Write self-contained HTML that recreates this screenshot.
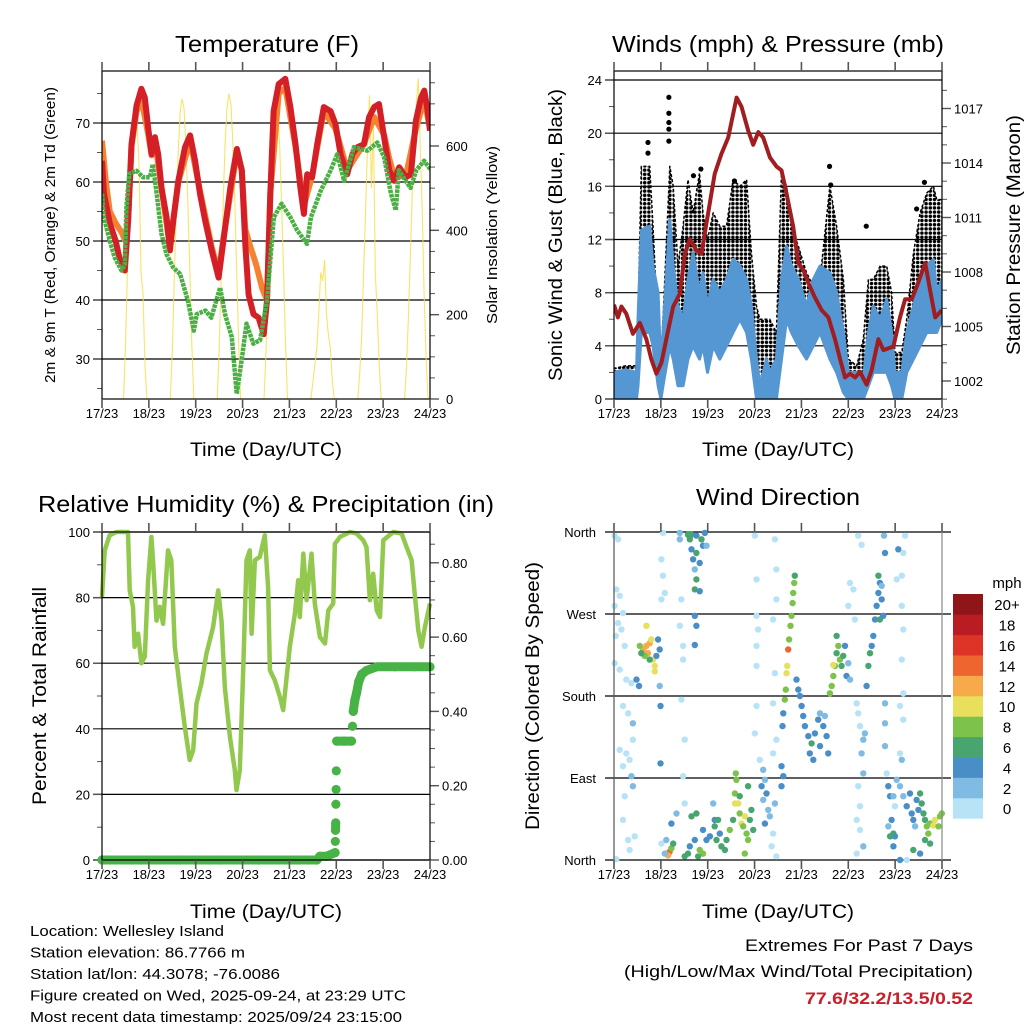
<!DOCTYPE html>
<html><head><meta charset="utf-8"><style>
html,body{margin:0;padding:0;background:#fff;}
svg{display:block;font-family:"Liberation Sans",sans-serif;}
</style></head><body>
<svg id="chart" width="1024" height="1024" viewBox="0 0 1024 1024" xmlns="http://www.w3.org/2000/svg">
<defs>
<pattern id="dotpat" width="4.2" height="4.2" patternUnits="userSpaceOnUse"><circle cx="2.1" cy="2.1" r="1.75" fill="#000"/></pattern>
</defs>
</svg>
<script>
// ---------- DATA ----------
const dayLabels=["17/23","18/23","19/23","20/23","21/23","22/23","23/23","24/23"];
const tempT=[0,1,4,7,9,11.7,13.4,15.1,17.7,20.2,21.9,23.7,25.4,27.1,28.8,30.5,33.1,34.8,36.5,39.1,42.5,45.1,47.7,50.2,52.8,56.2,59.7,62.2,65.7,69.1,71.6,73.4,75.1,77.6,80.2,82.8,84.5,86.2,87.9,90.5,93.9,96.5,99.1,101.6,103.4,105.1,107.6,110.2,113.6,117.1,119.6,122.2,125.6,128.2,130.8,134.2,136.8,139.4,141.9,144.5,147.1,149.6,152.2,155.6,158.2,160.8,163.4,165.1,166.8,168];
const tempRed=[63.6,58,53,50,47,45,53.5,66.4,73,75.8,74.3,69,64.7,67.6,64.7,59,54,48.4,53.5,60.2,65.9,67.9,63.6,58,53.5,48.4,43.8,50,59,65.6,62,49.4,40.9,37.6,37,34.2,39.9,58,72,76.6,77.5,72.7,66.4,59,54.6,61.3,60.8,66.4,72.7,72,69.8,64.7,61.3,64.7,65.9,66.4,71,72.7,73.2,67.6,62,60.2,62.5,60.8,61.3,70.4,74.3,75.5,72,68.7];
const orangeT=[0,2,4,7,10,12,13.4,15.1,17.7,20.2,23.7,25.4,27.1,30.5,34.8,39.1,45.1,50.2,56.2,59.7,62.2,69.1,71.6,73.4,76,79,82,84.5,86.2,90.5,93.9,99.1,103.4,107.6,113.6,119.6,122.2,125.6,134.2,139.4,144.5,147.1,149.6,155.6,160.8,165.1,168];
const orangeV=[67,60,55,53,51.5,50,54,66,72,74,68,64.5,67,59,49,60,67,58.5,49,44.5,50.5,65,62,52,49,46,42,40,58,75,76,66,56,61,72,69,66,62,66.5,71,68,64,61,61,69,74,69];
const dewT=[0,1,4,6.5,10,11.7,12.5,14,17.7,21,24.5,26,28,30.5,33,36.5,40,44,47,48.5,53,56,60.5,63,66.5,69,71.5,74,77.5,81,84.5,88,92,96.5,100,105,107,112,117,120.5,124,129,136,141,144.5,148,150.5,152,155.5,158,161,165,168.5];
const dewV=[58,54,50,47.2,45,46,55.7,61.4,61.9,60.8,60.8,63,58,51.2,47.8,45.5,44.4,39.9,34.8,37.6,38.2,37,42.1,37.6,33.7,24.1,29.7,36,32.6,33.2,39.9,54,56.3,54,51.8,49.5,54,58.5,61.9,64.7,60.2,65.9,65.3,66.7,64.2,58,55.2,62,60.2,59,62,63.6,62];
const solarHours=[10,11,12,13,14,15,16,17,18,19,20,21,22,23];
const solarDay17=[0,0,120,300,480,600,650,700,650,550,300,250,80,0];
const solarDay18=[0,0,110,280,440,580,680,712,690,600,460,300,130,0];
const solarDay19=[0,0,110,290,450,600,690,724,700,610,470,300,130,0];
const solarDay20=[0,0,110,290,450,600,690,720,690,600,460,300,130,0];
const solarDay21=[0,0,40,80,120,200,300,280,330,200,150,120,40,0];
const solarDay22=[0,0,60,150,300,450,600,720,500,650,300,200,80,0];
const solarDay23=[0,0,80,200,350,500,650,700,760,600,450,250,100,0];

const windT=[0,6,11.5,12.3,14,18.3,20,22.6,24,25.1,28.6,30.3,32.8,35.4,37.9,40.5,43.8,45.6,47.9,50.8,54.2,57.6,61,64.5,67.9,70.4,73,74.7,78.1,79.8,83.2,85.8,88.4,90.9,94.4,98.6,102.1,105.5,110.6,114,117.5,120,124.3,127.7,130.3,132.8,136.3,139.7,142.2,143.9,147.4,149.9,153.4,156.8,160.2,163.6,165.3,168];
const windHigh=[2,2.2,2,6,12.7,13,10,8,2,5,13.5,10,7,6,9,11,8,9.5,7,9,8,9,10.5,10,9,7,3,1,3,2,3,9,11.5,10,9,7,9,10,9.5,8,5,2,2,1.5,5,7,6,7.5,5,2,2,5,7,9,10,10.5,8,9];
const windLow=[0,0,0,1,5,5,4,1,0,1,4,3,1,1,3,4,3,4,2,4,3,4,5,6,5,3,0,0,0,0,0,3,6,5,4,3,4,5,3,2,0.5,0,0,0,1,2,2,2,1,0,0,2,3,4,5,5,5,6];
const gustMax=[2.3,2.5,2.5,6,17.5,17.5,13,5,3,6,17.5,16,10,13,16.5,14,17,14,12,14,13,13,16.5,16,16.5,11,7,6,6,6,5,17,16,13,11.5,9.5,8.5,9,16,13,9,3,2.5,4.5,9,9,10,10,8,3.5,3.5,6,11,14,15.5,16,15,15];
const gustOutT=[17.4,17.4,28.1,28.1,28.1,28.1,28.1,40.7,44.5,61.7,110.4,111,129.2,155,159];
const gustOutV=[19.3,18.5,22.7,21.5,20.8,20.3,19.4,16.8,17.3,16.4,17.5,16.1,13,14.3,16.3];
const presT=[0,2,3.8,6.3,9.7,13.2,16.6,19.1,21.7,24.3,26.8,30.3,33.7,36.3,38.8,42.2,44.8,47.4,51.6,55,58.5,62.8,65.3,68.7,71.3,73.9,76.4,79.9,83.3,85.8,88.4,91.8,94.4,97,99.5,102.9,106.4,109.8,113.2,115.8,118.3,120.9,123.5,126,129.4,132,135.4,138,143.1,146.5,149.1,152.5,155.1,159.4,161.9,164.5,167.9];
const presV=[1006.2,1005.5,1006.1,1005.7,1004.6,1005.2,1004.3,1003.2,1002.4,1003,1004.3,1006.1,1006.8,1009,1009.8,1009.2,1009,1010.7,1013.4,1014.5,1015.4,1017.6,1017.1,1015.8,1015,1015.7,1015.4,1014.3,1013.8,1013.6,1012.3,1010.5,1008.5,1008.1,1007.4,1006.6,1005.9,1005.5,1004.3,1003.2,1002.2,1002.4,1002.2,1002.5,1001.8,1002.6,1004.3,1003.7,1003.9,1005.5,1006.5,1006.5,1007.2,1008.5,1007,1005.5,1005.9];

const rhT=[0,1.4,3.9,7.3,13.3,14.2,15.9,16.7,18.5,20.2,21.9,23.6,25.3,26.1,27.9,29.6,31.3,33.8,35.5,37.3,39.8,42.4,44.9,46.7,48.4,50.9,53.5,56.9,59.5,61.2,62.9,65.5,68,68.9,70.6,72.3,74,75.7,76.6,78.3,80.8,83.4,85.1,86,88.5,91.1,92.8,96.2,98.8,100.5,101.3,103.1,104.8,107.3,109,111.6,114.2,115.9,118.4,119.3,121.9,127,130.4,133.8,135.5,137.2,138.9,140.7,142.4,144.1,149.2,153.5,156,158.6,160.3,162,163.7,165.4,168];
const rhV=[80.2,94.4,99,100,100,82.2,77.2,65,69,60,62,85.3,98.5,91.4,73,77.2,72,94.4,91.4,65,52.8,40.6,30.5,33.5,47.7,53.8,63,71,82.2,73,52.8,37.6,27.4,21.3,27.4,57.9,91.4,94.4,69,91.4,92.4,99,83.2,57.9,54.8,49.7,45.7,65,75.1,85.3,74.1,93.4,79.2,93.4,78.2,68,66,76.1,78.2,96.4,98.5,100,99.5,97.5,95.4,79.2,87.3,76.1,74.1,97.5,100,99.5,95.4,91.4,80.2,70,65,71,78.2];
const precipT=[0,20,40,60,80,100,110,111.6,115,119.4,119.5,119.6,119.7,119.8,119.9,120,120.2,124,127.8,128.3,128.7,129.5,130.4,131.5,133,135.5,140.7,150,160,168];
const precipV=[0,0,0,0,0,0,0,0.01,0.01,0.02,0.05,0.08,0.1,0.15,0.19,0.24,0.32,0.32,0.32,0.36,0.40,0.43,0.45,0.48,0.50,0.51,0.52,0.52,0.52,0.52];

const dirT=[0.3,2.1,1.2,2.9,0.3,4.6,2.1,3.8,0.9,5.5,0.3,2.9,6.3,8.9,4.6,7.2,9.7,2.9,6.3,9.7,8.0,4.6,8.9,9.7,5.5,4.6,7.2,1.2,8.0,10.6,11.5,12.8,14.9,16.6,17.4,18.3,15.7,14.0,20.0,20.9,21.7,22.6,23.4,16.6,19.1,13.2,18.3,20.9,23.4,23.8,23.8,24.3,25.1,26.0,24.3,25.1,28.5,27.7,29.4,30.3,26.0,24.3,26.8,29.4,32.0,33.7,33.7,34.5,35.4,33.7,35.4,34.5,36.2,35.4,36.2,37.9,39.7,42.2,44.8,45.6,39.7,42.2,40.5,43.9,41.4,42.2,41.4,43.9,46.5,47.4,38.8,41.4,42.2,41.4,36.2,37.9,39.7,42.2,43.9,45.6,38.8,41.4,43.1,47.4,49.1,45.6,51.6,50.8,51.6,53.3,52.5,54.2,55.0,56.8,57.6,59.3,61.0,61.9,62.7,62.4,63.6,64.4,65.3,66.2,67.0,67.9,68.7,69.6,70.4,71.3,61.9,64.4,67.0,68.7,72.1,73.0,73.0,73.8,73.0,73.0,72.1,73.0,74.7,76.4,77.3,75.6,78.1,76.4,79.0,79.8,77.3,81.5,80.7,83.2,82.4,81.5,83.2,85.8,85.8,86.7,82.4,83.2,83.2,81.5,82.4,81.5,86.3,86.7,87.5,88.0,88.4,88.7,89.2,89.7,90.4,90.9,91.5,91.8,92.3,92.6,93.5,94.4,95.2,96.1,96.9,97.8,99.5,101.2,102.9,104.6,105.5,107.2,108.9,109.7,102.1,100.3,108.0,105.5,110.6,111.5,112.3,113.2,114.0,114.9,115.7,116.6,117.4,118.3,119.1,120.0,120.9,114.0,112.3,120.0,120.9,122.6,123.4,124.3,125.1,126.0,127.7,126.8,127.7,125.1,126.0,124.3,126.0,124.3,127.7,125.1,126.8,128.5,129.4,130.3,131.1,132.0,132.8,133.7,134.5,135.4,136.2,137.1,136.2,137.9,135.4,137.1,138.8,138.3,138.8,138.8,138.8,145.6,144.8,147.4,148.2,149.1,147.4,148.2,147.4,148.2,146.5,148.2,146.5,147.4,139.7,140.5,141.4,142.2,143.1,143.9,140.5,141.4,143.1,144.8,146.5,148.2,149.9,151.6,152.5,153.3,154.2,155.0,155.9,156.8,157.6,158.5,159.3,160.2,161.9,163.6,164.4,166.2,167.0,167.9,161.0,159.3,161.9,153.3,156.8,146.5,149.9,143.9,143.1];
const dirV=[356,352,297,290,279,271,260,253,246,235,216,209,198,194,169,161,150,121,117,132,110,103,92,81,70,44,22,1,11,26,198,191,231,235,227,238,224,227,220,213,224,242,231,257,242,235,220,207,191,169,106,286,312,293,330,359,9,5,13,18,7,18,22,40,51,359,352,286,235,257,220,176,132,92,62,357,357,356,352,345,341,337,330,326,319,308,297,295,359,345,352,268,257,236,4,7,48,51,11,7,15,22,4,22,26,33,44,62,37,44,22,29,15,11,22,33,44,73,88,95,62,51,40,37,48,29,22,44,55,33,62,70,7,81,356,308,268,253,235,213,139,169,110,99,88,81,73,66,55,48,40,29,15,4,62,117,132,103,81,92,352,319,286,264,205,172,147,161,176,187,205,213,231,242,257,268,282,293,304,312,198,187,180,169,158,147,136,128,139,154,161,147,136,117,110,117,158,125,183,191,202,213,227,235,220,213,224,235,202,216,198,246,214,279,304,297,264,172,161,147,132,117,95,81,59,44,33,7,15,356,346,139,191,213,227,235,246,264,279,293,304,286,264,268,312,301,337,356,172,150,125,341,308,312,337,356,279,253,220,183,169,154,117,110,95,81,70,44,29,26,37,26,15,88,81,70,59,73,51,44,37,66,55,73,62,51,44,37,40,38,44,37,48,51,29,22,18,11,7,0,0,59,70];
const dirS=[0,0,0,0,0,0,0,0,0,0,0,0,0,0,0,0,2,0,0,0,0,0,2,2,0,0,0,0,0,0,4,4,12,12,12,13,8,6,10,10,4,4,4,10,10,8,6,10,2,4,4,0,0,0,0,0,15,12,8,6,2,0,2,4,2,2,2,0,0,0,0,0,0,0,0,6,6,4,6,4,4,6,4,4,2,6,6,4,4,2,6,4,4,4,6,6,6,6,8,8,4,4,6,4,4,4,4,2,6,6,6,4,6,6,6,8,6,8,8,8,10,8,10,8,10,8,8,6,6,6,10,6,8,6,0,0,0,0,0,0,0,0,0,2,2,4,4,2,2,2,4,0,0,0,2,0,0,4,4,4,0,0,0,0,0,0,4,4,8,8,10,10,14,8,8,8,8,8,8,6,4,4,4,4,4,4,4,6,4,4,2,4,4,4,4,4,2,4,8,8,8,8,6,8,8,6,6,4,4,2,2,6,10,0,0,0,0,0,0,0,2,2,2,0,0,0,0,0,2,0,0,2,4,6,6,4,4,4,4,4,4,4,6,4,6,2,4,2,2,2,2,4,0,0,0,0,0,0,0,0,0,0,0,2,0,4,4,4,6,4,2,6,4,2,2,2,4,4,4,4,2,4,4,6,6,6,6,8,8,10,10,8,8,8,8,6,6,6,4,4,0,0,2,2];
const speedBins=["0","2","4","6","8","10","12","14","16","18","20+"];
const binColors=["#b8e3f7","#7fbbe3","#4a8ec7","#49a56f","#7dc24b","#e8e05c","#f6aa49","#ef652f","#de3427","#ba1c23","#8f1519"];

// ---------- HELPERS ----------
const NS="http://www.w3.org/2000/svg";
const svg=document.getElementById("chart");
function mk(tag,attrs,parent){const e=document.createElementNS(NS,tag);for(const k in attrs)e.setAttribute(k,attrs[k]);(parent||svg).appendChild(e);return e;}
function txt(s,attrs,parent){const e=mk("text",attrs,parent);e.textContent=s;return e;}
function linScale(d0,d1,r0,r1){return v=>r0+(v-d0)*(r1-r0)/(d1-d0);}
function pathFrom(ts,vs,xf,yf){let d="";for(let i=0;i<ts.length;i++)d+=(i?"L":"M")+xf(ts[i]).toFixed(1)+","+yf(vs[i]).toFixed(1);return d;}

const P={x0:102,x1:430,y0:71,y1:399};
const Q={x0:614,x1:942,y0:71,y1:399};
const R={x0:102,x1:430,y0:532,y1:860};
const S={x0:614,x1:942,y0:532,y1:860};

function frameAndX(p,name,titleY,labelY){
  const g=mk("g",{});
  
  
  const xs=linScale(0,168,p.x0,p.x1);
  for(let i=0;i<dayLabels.length;i++){
    const x=xs(i*24);
    mk("line",{x1:x,x2:x,y1:p.y1,y2:p.y1+9,stroke:"#555","stroke-width":1.6},g);
    mk("line",{x1:x,x2:x,y1:p.y0,y2:p.y0-9,stroke:"#555","stroke-width":1.6},g);
    const t=txt(dayLabels[i],{x:x,y:labelY,"font-size":13,"text-anchor":"middle",fill:"#000"},g);
    
    
  }
  const at=txt("Time (Day/UTC)",{x:(p.x0+p.x1)/2,y:titleY,"font-size":19,"text-anchor":"middle",fill:"#000",textLength:152,lengthAdjust:"spacingAndGlyphs"});
  
  
  return xs;
}
function frame(p,name){
  const r=mk("rect",{x:p.x0,y:p.y0,width:p.x1-p.x0,height:p.y1-p.y0,fill:"none",stroke:"#000","stroke-width":1.2});
  
  
}
function yTicks(p,side,scale,majors,minors,fmt,name,grid,labelDx){
  const g=mk("g",{});
  
  
  const x=side==="l"?p.x0:p.x1, dir=side==="l"?-1:1;
  minors.forEach(v=>{const y=scale(v);mk("line",{x1:x,x2:x+dir*5,y1:y,y2:y,stroke:"#555","stroke-width":1},g);});
  majors.forEach(v=>{const y=scale(v);
    if(grid) mk("line",{x1:p.x0-9,x2:p.x1,y1:y,y2:y,stroke:"#000","stroke-width":1.2},g);
    mk("line",{x1:x,x2:x+dir*9,y1:y,y2:y,stroke:"#555","stroke-width":1.4},g);
    const t=txt(fmt(v),{x:x+dir*labelDx,y:y+5,"font-size":13,"text-anchor":side==="l"?"end":"start",fill:"#000"},g);
    
    
  });
}
function rotText(s,x,y,size,len,name){
  const t=txt(s,{x:0,y:0,"font-size":size,"text-anchor":"middle",fill:"#000",transform:`translate(${x},${y}) rotate(-90)`,textLength:len,lengthAdjust:"spacingAndGlyphs"});
  
  
}
function title(s,x,y,len,name){
  const t=txt(s,{x:x,y:y,"font-size":23,"text-anchor":"middle",fill:"#000",textLength:len,lengthAdjust:"spacingAndGlyphs"});
  
  
}
function range(a,b,s){const r=[];for(let v=a;v<=b+1e-9;v+=s)r.push(+v.toFixed(4));return r;}

// ---------- PANEL 1: TEMPERATURE ----------
{
  const xs=linScale(0,168,P.x0,P.x1);
  const yT=linScale(30,70,359,123);
  const yS=linScale(0,600,399,146);
  const clip=mk("clipPath",{id:"c1"});mk("rect",{x:P.x0,y:P.y0,width:P.x1-P.x0,height:P.y1-P.y0},clip);
  yTicks(P,"l",yT,[30,40,50,60,70],range(25,75,5),v=>v,"temp-y-axis",true,12);
  yTicks(P,"r",yS,[0,200,400,600],range(0,750,50),v=>v,"solar-y-axis",false,16);
  const g=mk("g",{"clip-path":"url(#c1)"});
  const solarDays=[solarDay17,solarDay18,solarDay19,solarDay20,solarDay21,solarDay22,solarDay23];
  solarDays.forEach((arr,di)=>{
    const p=mk("path",{d:pathFrom(solarHours.map(h=>h+di*24),arr,xs,yS),fill:"none",stroke:"#f7df4e","stroke-width":1.1,opacity:0.85},g);
    
    
  });
  const o=mk("path",{d:pathFrom(orangeT,orangeV,xs,yT),fill:"none",stroke:"#f58231","stroke-width":6,"stroke-linejoin":"round"},g);
  
  
  const r=mk("path",{d:pathFrom(tempT,tempRed,xs,yT),fill:"none",stroke:"#d41f27","stroke-width":6,"stroke-linejoin":"round"},g);
  
  
  const gd=mk("path",{d:pathFrom(dewT,dewV,xs,yT),fill:"none",stroke:"#4caf45","stroke-width":4.5,"stroke-dasharray":"3.5 0.8","stroke-linejoin":"round"},g);
  
  
  frame(P,"temp");
  frameAndX(P,"temp",456,418);
  title("Temperature (F)",267,52,184,"temp-title");
  rotText("2m & 9m T (Red, Orange) & 2m Td (Green)",55,235,14.5,296,"temp-y-title");
  rotText("Solar Insolation (Yellow)",497,235,15,178,"solar-y-title");
}

// ---------- PANEL 2: WINDS ----------
{
  const xs=linScale(0,168,Q.x0,Q.x1);
  const yW=linScale(0,24,399,80);
  const yP=linScale(1002,1017,381,108.5);
  const clip=mk("clipPath",{id:"c2"});mk("rect",{x:Q.x0,y:Q.y0,width:Q.x1-Q.x0,height:Q.y1-Q.y0},clip);
  yTicks(Q,"l",yW,[0,4,8,12,16,20,24],range(0,24,2),v=>v,"wind-y-axis",true,12);
  yTicks(Q,"r",yP,[1002,1005,1008,1011,1014,1017],range(1001,1018,1),v=>v,"pressure-y-axis",false,12);
  const g=mk("g",{"clip-path":"url(#c2)"});
  let d="M"+xs(windT[0])+","+yW(windLow[0]);
  for(let i=0;i<windT.length;i++)d+="L"+xs(windT[i]).toFixed(1)+","+yW(gustMax[i]).toFixed(1);
  for(let i=windT.length-1;i>=0;i--)d+="L"+xs(windT[i]).toFixed(1)+","+yW(windLow[i]).toFixed(1);
  const gust=mk("path",{d:d+"Z",fill:"url(#dotpat)",stroke:"#000","stroke-width":1.5,"stroke-dasharray":"3 2","stroke-linejoin":"round"},g);
  
  
  for(let i=0;i<gustOutT.length;i++){
    const c=mk("circle",{cx:xs(gustOutT[i]),cy:yW(gustOutV[i]),r:2.6,fill:"#000"},g);
    
    
  }
  let d2="M"+xs(windT[0])+","+yW(windHigh[0]);
  for(let i=0;i<windT.length;i++)d2+="L"+xs(windT[i]).toFixed(1)+","+yW(windHigh[i]).toFixed(1);
  for(let i=windT.length-1;i>=0;i--)d2+="L"+xs(windT[i]).toFixed(1)+","+yW(windLow[i]).toFixed(1);
  const blue=mk("path",{d:d2+"Z",fill:"#5597d2",stroke:"#5597d2","stroke-width":3,"stroke-linejoin":"round"},g);
  
  
  const pr=mk("path",{d:pathFrom(presT,presV,xs,yP),fill:"none",stroke:"#a11d1f","stroke-width":4,"stroke-linejoin":"round"},g);
  
  
  frame(Q,"wind");
  frameAndX(Q,"wind",456,418);
  title("Winds (mph) & Pressure (mb)",778,52,332,"wind-title");
  rotText("Sonic Wind & Gust (Blue, Black)",562,235,19,292,"wind-y-title");
  rotText("Station Pressure (Maroon)",1020,235,19,240,"pressure-y-title");
}

// ---------- PANEL 3: RH & PRECIP ----------
{
  const xs=linScale(0,168,R.x0,R.x1);
  const yR=linScale(0,100,860,532);
  const yPr=linScale(0,0.8,860,562.8);
  const clip=mk("clipPath",{id:"c3"});mk("rect",{x:R.x0-6,y:R.y0-6,width:R.x1-R.x0+12,height:R.y1-R.y0+12},clip);
  yTicks(R,"l",yR,[0,20,40,60,80,100],range(0,100,10),v=>v,"rh-y-axis",true,12);
  yTicks(R,"r",yPr,[0,0.2,0.4,0.6,0.8],range(0,0.85,0.05),v=>v.toFixed(2),"precip-y-axis",false,12);
  const g=mk("g",{"clip-path":"url(#c3)"});
  const rh=mk("path",{d:pathFrom(rhT,rhV,xs,yR),fill:"none",stroke:"#93c84f","stroke-width":4.5,"stroke-linejoin":"round"},g);
  
  
  let d="";
  for(let i=0;i<precipT.length;i++){
    const joined=i>0&&precipV[i]-precipV[i-1]<0.03;
    d+=(joined?"L":"M")+xs(precipT[i]).toFixed(1)+","+yPr(precipV[i]).toFixed(1);
  }
  const pp=mk("path",{d:d,fill:"none",stroke:"#47b346","stroke-width":9,"stroke-linecap":"round","stroke-linejoin":"round"},g);
  
  
  for(let i=0;i<precipT.length;i++){
    const c=mk("circle",{cx:xs(precipT[i]),cy:yPr(precipV[i]),r:4.6,fill:"#47b346"},g);
    
    
  }
  frame(R,"rh");
  frameAndX(R,"rh",918,879);
  title("Relative Humidity (%) & Precipitation (in)",266,512,456,"rh-title");
  rotText("Percent & Total Rainfall",46,696,19,218,"rh-y-title");
}

// ---------- PANEL 4: WIND DIRECTION ----------
{
  const xs=linScale(0,168,S.x0,S.x1);
  const yD=linScale(0,360,860,532);
  const g0=mk("g",{});
  
  
  const dirNames=["North","East","South","West","North"];
  [0,90,180,270,360].forEach((v,i)=>{
    const y=yD(v);
    mk("line",{x1:S.x0-9,x2:S.x1+9,y1:y,y2:y,stroke:"#000","stroke-width":1.2},g0);
    const t=txt(dirNames[i],{x:S.x0-18,y:y+5,"font-size":13,"text-anchor":"end",fill:"#000"},g0);
    
    
  });
  const g=mk("g",{});
  for(let i=0;i<dirT.length;i++){
    const b=Math.min(10,Math.floor(dirS[i]/2));
    const c=mk("circle",{cx:xs(dirT[i]).toFixed(1),cy:yD(dirV[i]).toFixed(1),r:3.2,fill:binColors[b]},g);
    
    
  }
  mk("line",{x1:S.x0,x2:S.x0,y1:S.y0,y2:S.y1,stroke:"#555","stroke-width":1.2});
  mk("line",{x1:S.x1,x2:S.x1,y1:S.y0,y2:S.y1,stroke:"#888","stroke-width":1.2});
  frameAndX(S,"direction",918,879);
  title("Wind Direction",778,505,164,"direction-title");
  rotText("Direction (Colored By Speed)",539,696,19,268,"direction-y-title");
  const cb=mk("g",{});
  
  
  const top=594,h=20.4;
  for(let i=0;i<speedBins.length;i++){
    const y=top+(10-i)*h;
    const r=mk("rect",{x:953,y:y,width:30,height:h+0.3,fill:binColors[i]},cb);
    
    
    const t=txt(speedBins[i],{x:1007,y:y+h/2+6,"font-size":15,"text-anchor":"middle",fill:"#000"},cb);
    
    
  }
  const mt=txt("mph",{x:1007,y:588,"font-size":15,"text-anchor":"middle",fill:"#000"},cb);
  
  
}

// ---------- FOOTER ----------
{
  const lines=["Location: Wellesley Island","Station elevation: 86.7766 m","Station lat/lon: 44.3078; -76.0086","Figure created on Wed, 2025-09-24, at 23:29 UTC","Most recent data timestamp: 2025/09/24 23:15:00"];
  const lens=[194,215,250,376,372];
  const g=mk("g",{});
  
  
  lines.forEach((s,i)=>{
    const t=txt(s,{x:30,y:936+i*21.5,"font-size":15,fill:"#000",textLength:lens[i],lengthAdjust:"spacingAndGlyphs"},g);
    
    
  });
  const e1=txt("Extremes For Past 7 Days",{x:973,y:951,"font-size":17,"text-anchor":"end",fill:"#000",textLength:228,lengthAdjust:"spacingAndGlyphs"});
  
  
  const e2=txt("(High/Low/Max Wind/Total Precipitation)",{x:973,y:977,"font-size":17,"text-anchor":"end",fill:"#000",textLength:349,lengthAdjust:"spacingAndGlyphs"});
  
  
  const e3=txt("77.6/32.2/13.5/0.52",{x:973,y:1004,"font-size":17,"font-weight":"bold","text-anchor":"end",fill:"#c8202a",textLength:168,lengthAdjust:"spacingAndGlyphs"});
  
  
}
</script>
</body></html>
